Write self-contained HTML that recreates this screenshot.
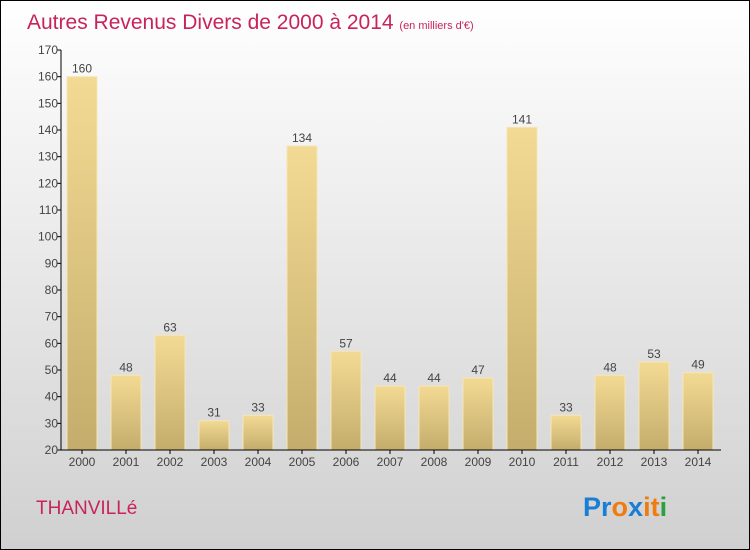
<!DOCTYPE html>
<html><head><meta charset="utf-8"><style>
body{margin:0;}
svg{display:block;font-family:"Liberation Sans",sans-serif;}
</style></head><body>
<svg id="chart" width="750" height="550">
<defs>
<linearGradient id="bg" x1="0" y1="0" x2="0" y2="1"><stop offset="0" stop-color="#ffffff"/><stop offset="1" stop-color="#d0d0d0"/></linearGradient>
<linearGradient id="bar" x1="0" y1="0" x2="0" y2="1"><stop offset="0" stop-color="#f3da94"/><stop offset="1" stop-color="#c4ad6c"/></linearGradient>
</defs>
<rect x="0.5" y="0.5" width="749" height="549" fill="url(#bg)" stroke="#000"/>
<text x="27" y="29" font-size="21" fill="#c8245a">Autres Revenus Divers de 2000 à 2014 <tspan font-size="11">(en milliers d'€)</tspan></text>
<g id="yaxis"></g>
<g id="bars"></g>
<g id="xaxis"></g>
<text x="36" y="514" font-size="19" fill="#c8245a">THANVILLé</text>
<text x="583" y="516" font-size="27" font-weight="bold"><tspan fill="#1a7fd4">Pr</tspan><tspan fill="#f07c10">o</tspan><tspan fill="#1a7fd4">x</tspan><tspan fill="#f07c10">it</tspan><tspan fill="#2aa040">i</tspan></text>
</svg>
<script>
const categories=["2000","2001","2002","2003","2004","2005","2006","2007","2008","2009","2010","2011","2012","2013","2014"];
const values=[160,48,63,31,33,134,57,44,44,47,141,33,48,53,49];
const yTicks=[20,30,40,50,60,70,80,90,100,110,120,130,140,150,160,170];
const NS="http://www.w3.org/2000/svg";
const y0=450,y1=50,vmin=20,vmax=170,x0=61,step=44,firstC=82,bw=30;
const yS=v=>y0-(v-vmin)/(vmax-vmin)*(y0-y1);
const xS=i=>firstC+i*step;
function mk(t,a,p){const e=document.createElementNS(NS,t);for(const k in a)e.setAttribute(k,a[k]);p.appendChild(e);return e;}
const ya=document.getElementById('yaxis'),ba=document.getElementById('bars'),xa=document.getElementById('xaxis');
mk('line',{x1:x0,y1:y1,x2:x0,y2:y0,stroke:'#000'},ya);
mk('line',{x1:x0,y1:y0,x2:721,y2:y0,stroke:'#000'},xa);
yTicks.forEach(v=>{
 const l=mk('line',{x1:x0-4,y1:yS(v),x2:x0,y2:yS(v),stroke:'#000'},ya);
 
 
 const t=mk('text',{x:x0-3,y:yS(v)+4,'font-size':12,'text-anchor':'end',fill:'#444'},ya);
 t.textContent=v;
 
 
});
categories.forEach((c,i)=>{
 const v=values[i],cx=xS(i);
 const r=mk('rect',{x:cx-bw/2,y:yS(v),width:bw,height:y0-yS(v),fill:'url(#bar)',stroke:'#f6e6b4','stroke-width':1},ba);
 
 
 const lt=mk('text',{x:cx,y:yS(v)-4,'font-size':12,'text-anchor':'middle',fill:'#444'},ba);
 lt.textContent=v;
 
 
 const tk=mk('line',{x1:cx,y1:y0,x2:cx,y2:y0+4,stroke:'#000'},xa);
 
 
 const xt=mk('text',{x:cx,y:y0+16,'font-size':12,'text-anchor':'middle',fill:'#444'},xa);
 xt.textContent=c;
 
 
});
</script>
</body></html>
